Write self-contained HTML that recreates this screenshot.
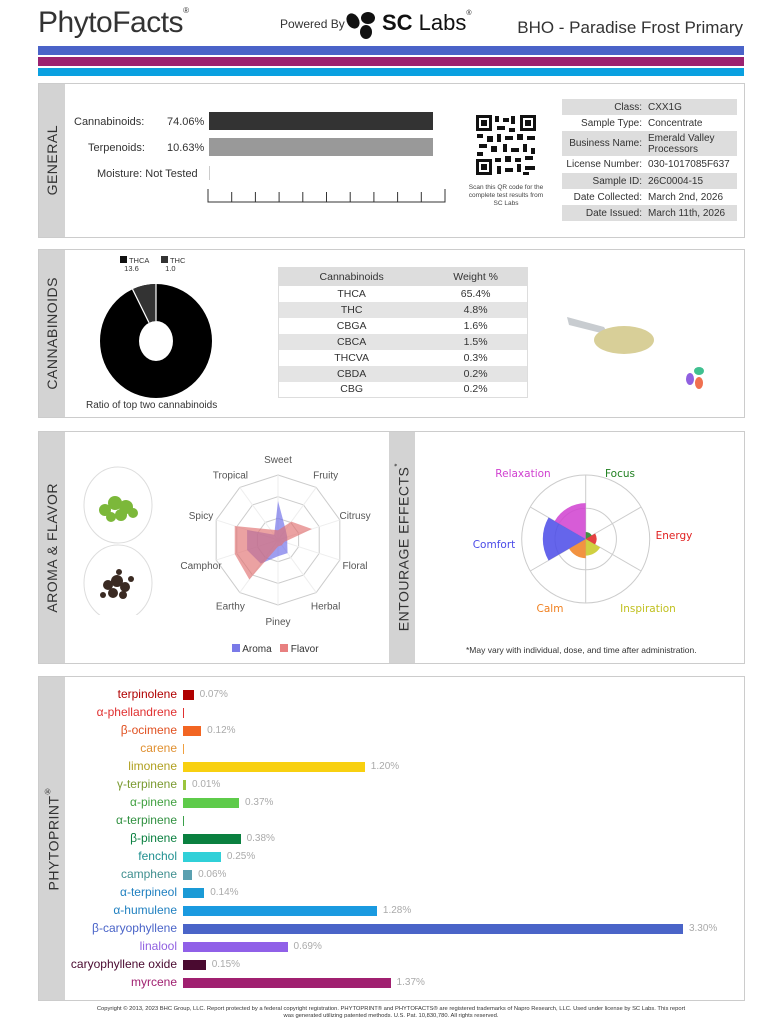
<!DOCTYPE html>
<html><head><meta charset="utf-8"><style>
body{margin:0;width:782px;height:1024px;background:#fff;font-family:"Liberation Sans",sans-serif;position:relative;overflow:hidden}
.a{position:absolute}
.box{position:absolute;border:1px solid #ccc;background:#fff}
.strip{position:absolute;width:26px;background:#d3d3d3;display:flex;align-items:center;justify-content:center}
.strip span{writing-mode:vertical-rl;transform:rotate(180deg);white-space:nowrap;font-size:14px;color:#333;letter-spacing:0.5px}
.lbl{font-size:11px;color:#333}
table{border-collapse:collapse}
</style></head><body>
<div class="a" style="left:38px;top:6px;font-size:30px;color:#333;letter-spacing:-0.5px">PhytoFacts<span style="font-size:8px;vertical-align:top">®</span></div>
<div class="a" style="left:280px;top:17px;font-size:12px;color:#333">Powered By</div>
<svg class="a" style="left:344px;top:10px" width="34" height="30"><ellipse cx="9" cy="11" rx="6" ry="8" fill="#111" transform="rotate(-30 9 11)"/><ellipse cx="24" cy="8" rx="7" ry="6" fill="#111"/><ellipse cx="22" cy="22" rx="6" ry="7" fill="#111"/></svg>
<div class="a" style="left:382px;top:10px;font-size:22px;color:#111"><b>SC</b> Labs<span style="font-size:7px;vertical-align:top">®</span></div>
<div class="a" style="right:39px;top:18px;font-size:17px;color:#333">BHO - Paradise Frost Primary</div>
<div class="a" style="left:38px;top:46px;width:706px;height:9px;background:#4a63c8"></div>
<div class="a" style="left:38px;top:57px;width:706px;height:9px;background:#9b2270"></div>
<div class="a" style="left:38px;top:68px;width:706px;height:8px;background:#0aa0e0"></div>

<!-- GENERAL -->
<div class="box" style="left:38px;top:83px;width:705px;height:153px">
<div class="a lbl" style="left:35px;top:32px">Cannabinoids:</div><div class="a lbl" style="left:128px;top:32px">74.06%</div>
<div class="a" style="left:170px;top:28px;width:224px;height:18px;background:#333"></div>
<div class="a lbl" style="left:49px;top:58px">Terpenoids:</div><div class="a lbl" style="left:128px;top:58px">10.63%</div>
<div class="a" style="left:170px;top:54px;width:224px;height:18px;background:#999"></div>
<div class="a lbl" style="left:58px;top:84px">Moisture: Not Tested</div>
<div class="a" style="left:170px;top:82px;width:1px;height:14px;background:#ccc"></div>
<svg class="a" style="left:168px;top:105px" width="240" height="15"><path d="M1 0V13H238V0" stroke="#333" fill="none"/>
<g stroke="#333"><path d="M24.7 3V13M48.4 3V13M72.1 3V13M95.8 3V13M119.5 3V13M143.2 3V13M166.9 3V13M190.6 3V13M214.3 3V13"/></g></svg>
<svg class="a" style="left:436px;top:30px" width="62" height="62"><rect width="62" height="62" fill="#fff"/>
<g fill="#111"><rect x="1" y="1" width="16" height="16"/><rect x="45" y="1" width="16" height="16"/><rect x="1" y="45" width="16" height="16"/></g>
<g fill="#fff"><rect x="4" y="4" width="10" height="10"/><rect x="48" y="4" width="10" height="10"/><rect x="4" y="48" width="10" height="10"/></g>
<g fill="#111"><rect x="6" y="6" width="6" height="6"/><rect x="50" y="6" width="6" height="6"/><rect x="6" y="50" width="6" height="6"/>
<rect x="20" y="2" width="4" height="6"/><rect x="28" y="4" width="6" height="4"/><rect x="36" y="2" width="4" height="8"/><rect x="22" y="12" width="8" height="4"/><rect x="34" y="14" width="6" height="4"/>
<rect x="2" y="20" width="6" height="4"/><rect x="12" y="22" width="6" height="6"/><rect x="22" y="20" width="4" height="8"/><rect x="30" y="22" width="8" height="4"/><rect x="42" y="20" width="6" height="6"/><rect x="52" y="22" width="8" height="4"/>
<rect x="4" y="30" width="8" height="4"/><rect x="16" y="32" width="6" height="6"/><rect x="28" y="30" width="4" height="8"/><rect x="36" y="34" width="8" height="4"/><rect x="48" y="30" width="4" height="8"/><rect x="56" y="34" width="4" height="6"/>
<rect x="2" y="38" width="6" height="4"/><rect x="20" y="44" width="6" height="4"/><rect x="30" y="42" width="6" height="6"/><rect x="40" y="44" width="6" height="4"/><rect x="50" y="42" width="8" height="4"/>
<rect x="22" y="52" width="4" height="8"/><rect x="30" y="54" width="8" height="4"/><rect x="42" y="50" width="4" height="8"/><rect x="50" y="52" width="10" height="4"/><rect x="48" y="58" width="6" height="3"/></g></svg>
<div class="a" style="left:428px;top:100px;width:78px;text-align:center;font-size:6.5px;color:#444;line-height:8px">Scan this QR code for the complete test results from SC Labs</div>
<div class="a" style="left:523px;top:15px;width:175px;font-size:10px;color:#333">
<div style="background:#ddd;height:16px;display:flex;align-items:center"><span style="width:80px;text-align:right">Class:</span><span style="margin-left:6px">CXX1G</span></div>
<div style="height:16px;display:flex;align-items:center"><span style="width:80px;text-align:right">Sample Type:</span><span style="margin-left:6px">Concentrate</span></div>
<div style="background:#ddd;height:25px;display:flex;align-items:center"><span style="width:80px;text-align:right">Business Name:</span><span style="margin-left:6px;line-height:11px">Emerald Valley<br>Processors</span></div>
<div style="height:17px;display:flex;align-items:center"><span style="width:80px;text-align:right">License Number:</span><span style="margin-left:6px">030-1017085F637</span></div>
<div style="background:#ddd;height:16px;display:flex;align-items:center"><span style="width:80px;text-align:right">Sample ID:</span><span style="margin-left:6px">26C0004-15</span></div>
<div style="height:16px;display:flex;align-items:center"><span style="width:80px;text-align:right">Date Collected:</span><span style="margin-left:6px">March 2nd, 2026</span></div>
<div style="background:#ddd;height:16px;display:flex;align-items:center"><span style="width:80px;text-align:right">Date Issued:</span><span style="margin-left:6px">March 11th, 2026</span></div>
</div>
</div>
<div class="strip" style="left:39px;top:84px;height:153px"><span>GENERAL</span></div>

<!-- CANNABINOIDS -->
<div class="box" style="left:38px;top:249px;width:705px;height:167px">
<div class="a" style="left:81px;top:6px;font-size:7.5px;color:#333;line-height:8px"><span style="display:inline-block;width:7px;height:7px;background:#111"></span> THCA<br>&nbsp;&nbsp;13.6</div>
<div class="a" style="left:122px;top:6px;font-size:7.5px;color:#333;line-height:8px"><span style="display:inline-block;width:7px;height:7px;background:#333"></span> THC<br>&nbsp;&nbsp;1.0</div>
<svg class="a" style="left:55px;top:30px" width="124" height="124">
<path d="M62 4 A56 57 0 1 1 62 118 A56 57 0 1 1 62 4Z M62 41 A17 20 0 1 0 62 81 A17 20 0 1 0 62 41Z" fill="#000" fill-rule="evenodd"/>
<path d="M62 4 L62 41 A17 20 0 0 0 55 42.7 L38.5 9.2 A56 57 0 0 1 62 4Z" fill="#333"/>
<path d="M62 4 L62 41 M55 42.7 L38.5 9.2" stroke="#fff" stroke-width="1.2"/>
</svg>
<div class="a" style="left:47px;top:150px;font-size:10px;color:#333">Ratio of top two cannabinoids</div>
<table class="a" style="left:239px;top:17px;width:250px;font-size:10.5px;color:#333;text-align:center;border:1px solid #ddd">
<tr style="background:#ddd;height:18px"><td>Cannabinoids</td><td>Weight %</td></tr>
<tr style="height:16px"><td>THCA</td><td>65.4%</td></tr>
<tr style="height:16px;background:#e4e4e4"><td>THC</td><td>4.8%</td></tr>
<tr style="height:16px"><td>CBGA</td><td>1.6%</td></tr>
<tr style="height:16px;background:#e4e4e4"><td>CBCA</td><td>1.5%</td></tr>
<tr style="height:16px"><td>THCVA</td><td>0.3%</td></tr>
<tr style="height:16px;background:#e4e4e4"><td>CBDA</td><td>0.2%</td></tr>
<tr style="height:16px"><td>CBG</td><td>0.2%</td></tr></table>
<svg class="a" style="left:525px;top:55px" width="120" height="90">
<path d="M3 12 L40 22 L45 30 L5 20Z" fill="#c8ccd0"/>
<ellipse cx="60" cy="35" rx="30" ry="14" fill="#d8cf98"/>
</svg>
<svg class="a" style="left:645px;top:115px" width="24" height="28"><ellipse cx="15" cy="6" rx="5" ry="4" fill="#40c090"/><ellipse cx="6" cy="14" rx="4" ry="6" fill="#9060e0"/><ellipse cx="15" cy="18" rx="4" ry="6" fill="#f07050"/></svg>
</div>
<div class="strip" style="left:39px;top:250px;height:167px"><span>CANNABINOIDS</span></div>

<!-- AROMA -->
<div class="box" style="left:38px;top:431px;width:705px;height:231px"></div>
<div class="strip" style="left:39px;top:432px;height:231px"><span>AROMA &amp; FLAVOR</span></div>
<div class="strip" style="left:389px;top:432px;height:231px;width:26px"><span>ENTOURAGE EFFECTS<sup style="font-size:8px">*</sup></span></div>
<svg class="a" style="left:83px;top:465px" width="70" height="150">
<ellipse cx="35" cy="40" rx="34" ry="38" fill="none" stroke="#ddd"/>
<ellipse cx="35" cy="118" rx="34" ry="38" fill="none" stroke="#ddd"/>
<g fill="#7cb83a"><circle cx="22" cy="45" r="6"/><circle cx="32" cy="38" r="7"/><circle cx="43" cy="42" r="7"/><circle cx="38" cy="50" r="6"/><circle cx="28" cy="52" r="5"/><circle cx="50" cy="48" r="5"/></g>
<g fill="#3a2a22"><circle cx="25" cy="120" r="5"/><circle cx="34" cy="116" r="6"/><circle cx="42" cy="122" r="5"/><circle cx="30" cy="128" r="5"/><circle cx="40" cy="130" r="4"/><circle cx="20" cy="130" r="3"/><circle cx="48" cy="114" r="3"/><circle cx="36" cy="107" r="3"/></g>
</svg>
<svg id="radar" class="a" style="left:160px;top:450px" width="230" height="180"></svg>
<div class="a" style="left:232px;top:644px;font-size:10px;color:#333"><span style="display:inline-block;width:8px;height:8px;background:#7a7ae8"></span> Aroma &nbsp;&nbsp;<span style="display:inline-block;width:8px;height:8px;background:#e88080"></span> Flavor</div>
<svg id="ent" class="a" style="left:440px;top:455px" width="290" height="170"></svg>
<div class="a" style="left:466px;top:645px;font-size:8.5px;color:#333">*May vary with individual, dose, and time after administration.</div>

<!-- PHYTOPRINT -->
<div class="box" style="left:38px;top:676px;width:705px;height:323px"></div>
<div class="strip" style="left:39px;top:677px;height:323px"><span>PHYTOPRINT<sup style="font-size:8px">®</sup></span></div>
<div id="pp"></div>
<div class="a" style="left:0;top:1006px;width:782px;text-align:center;font-size:5.8px;color:#333;line-height:7px">Copyright © 2013, 2023 BHC Group, LLC. Report protected by a federal copyright registration. PHYTOPRINT® and PHYTOFACTS® are registered trademarks of Napro Research, LLC. Used under license by SC Labs. This report<br>was generated utilizing patented methods. U.S. Pat. 10,830,780. All rights reserved.</div>
<script>
var d=[["terpinolene",.07,"#b00000","#b00000"],["α-phellandrene",0,"#e03030","#e03030"],["β-ocimene",.12,"#f26522","#e05020"],["carene",0,"#f0a040","#e09030"],["limonene",1.2,"#f8d010","#b0a020"],["γ-terpinene",.01,"#9bc53d","#7a9a30"],["α-pinene",.37,"#5ecb4a","#40a040"],["α-terpinene",0,"#3aa04a","#309040"],["β-pinene",.38,"#0a8040","#0a8040"],["fenchol",.25,"#30d0d8","#209090"],["camphene",.06,"#5aa0b0","#409090"],["α-terpineol",.14,"#1a9ad6","#2080c0"],["α-humulene",1.28,"#1a9ae0","#2080c0"],["β-caryophyllene",3.3,"#4a64c8","#4a64c8"],["linalool",.69,"#9060e8","#9060e0"],["caryophyllene oxide",.15,"#4a0a30","#4a0a30"],["myrcene",1.37,"#a02070","#a02070"]];
var h="";d.forEach(function(r,i){var y=695+i*18,w=r[1]*151.5;if(r[1]==0)w=1;if(r[1]==.01)w=3;
h+='<div class="a" style="right:'+(782-177)+'px;top:'+(y-8)+'px;font-size:12px;line-height:14px;color:'+r[3]+'">'+r[0]+'</div>';
h+='<div class="a" style="left:183px;top:'+(y-5)+'px;width:'+w+'px;height:10px;background:'+r[2]+'"></div>';
if(r[1]>0)h+='<div class="a" style="left:'+(183+w+6)+'px;top:'+(y-6)+'px;font-size:10px;line-height:12px;color:#aaa">'+r[1].toFixed(2)+'%</div>';});
document.getElementById("pp").innerHTML=h;
var cx=118,cy=90,R=65,labs=["Sweet","Fruity","Citrusy","Floral","Herbal","Piney","Earthy","Camphor","Spicy","Tropical"];
function P(i,r){var a=(i*36-90)*Math.PI/180;return[cx+r*Math.cos(a),cy+r*Math.sin(a)];}
var s="";[1/3,2/3,1].forEach(function(f){var p=[];for(var i=0;i<10;i++)p.push(P(i,R*f).join(","));s+='<polygon points="'+p.join(" ")+'" fill="none" stroke="#ccc"/>';});
for(var i=0;i<10;i++){var q=P(i,R);s+='<line x1="'+cx+'" y1="'+cy+'" x2="'+q[0]+'" y2="'+q[1]+'" stroke="#eee"/>';var t=P(i,R+16);s+='<text x="'+t[0]+'" y="'+(t[1]+4)+'" font-size="10" fill="#555" text-anchor="middle" font-family="Liberation Sans">'+labs[i]+'</text>';}
var ar=[.6,.2,.15,.15,.25,.25,.45,.5,.5,.1],fl=[.15,.35,.55,.1,.1,.1,.75,.7,.7,.2];
function poly(v,c){var p=[];v.forEach(function(x,i){p.push(P(i,R*x).join(","))});return '<polygon points="'+p.join(" ")+'" fill="'+c+'" fill-opacity="0.65"/>';}
s+=poly(ar,"#6a6ae8")+poly(fl,"#e07070");
document.getElementById("radar").innerHTML=s;
var ex=145.7,ey=84,ER=64,e="";
e+='<circle cx="'+ex+'" cy="'+ey+'" r="'+ER+'" fill="none" stroke="#ccc"/><circle cx="'+ex+'" cy="'+ey+'" r="'+(ER*.48)+'" fill="none" stroke="#ccc"/>';
function Q(a,r){a=(a-90)*Math.PI/180;return[ex+r*Math.cos(a),ey+r*Math.sin(a)];}
for(var k=0;k<6;k++){var q=Q(k*60,ER);e+='<line x1="'+ex+'" y1="'+ey+'" x2="'+q[0]+'" y2="'+q[1]+'" stroke="#ccc"/>';}
var sec=[[0,.11,"#208020"],[60,.17,"#e02020"],[120,.26,"#c8c820"],[180,.3,"#f08020"],[240,.67,"#4a4ae8"],[300,.56,"#d040d0"]];
sec.forEach(function(z){var r=ER*z[1],a=Q(z[0],r),b=Q(z[0]+60,r);e+='<path d="M'+ex+' '+ey+'L'+a[0]+' '+a[1]+'A'+r+' '+r+' 0 0 1 '+b[0]+' '+b[1]+'Z" fill="'+z[2]+'" fill-opacity="0.85"/>';});
var el=[["Relaxation",83,22,"#d040d0"],["Focus",180,22,"#208020"],["Energy",234,84,"#e02020"],["Inspiration",208,157,"#c0c020"],["Calm",110,157,"#f08020"],["Comfort",54,93,"#4a4ae8"]];
el.forEach(function(l){e+='<text x="'+l[1]+'" y="'+l[2]+'" font-size="10.5" fill="'+l[3]+'" text-anchor="middle" font-family="DejaVu Sans">'+l[0]+'</text>';});
document.getElementById("ent").innerHTML=e;
</script>
</body></html>
